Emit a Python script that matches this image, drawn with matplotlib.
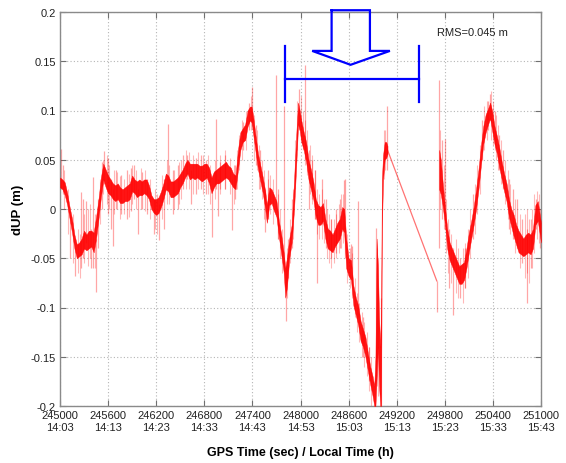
import matplotlib
matplotlib.use("Agg")
import matplotlib.pyplot as plt
import numpy as np

plt.rcParams['font.family'] = ['Liberation Sans', 'DejaVu Sans']

# ---------------- data ----------------
# segment A (before the data gap): time (s) and lower / upper edge of the dense trace (m)
t_a = [245000, 245030, 245060, 245090, 245120, 245150, 245180, 245210, 245240, 245270,
       245300, 245330, 245360, 245390, 245420, 245450, 245480, 245510, 245540, 245570,
       245600, 245630, 245660, 245690, 245720, 245750, 245780, 245810, 245840, 245870,
       245900, 245930, 245960, 245990, 246020, 246050, 246080, 246110, 246140, 246170,
       246200, 246230, 246260, 246290, 246320, 246350, 246380, 246410, 246440, 246470,
       246500, 246530, 246560, 246590, 246620, 246650, 246680, 246710, 246740, 246770,
       246800, 246830, 246860, 246890, 246920, 246950, 246980, 247010, 247040, 247070,
       247100, 247130, 247160, 247190, 247220, 247250, 247280, 247310, 247340, 247370,
       247390, 247410, 247440, 247470, 247500, 247530, 247560, 247580, 247610, 247640,
       247670, 247700, 247730, 247760, 247790, 247810, 247830, 247860, 247890, 247920,
       247950, 247970, 247990, 248010, 248040, 248070, 248100, 248130, 248160, 248190,
       248220, 248250, 248280, 248310, 248340, 248370, 248400, 248430, 248460, 248490,
       248520, 248545, 248570, 248600, 248630, 248660, 248690, 248720, 248750, 248780,
       248810, 248840, 248870, 248900, 248920, 248935, 248950, 248965, 248980, 248995,
       249005, 249015, 249030, 249050, 249070, 249085]
lo_a = [0.022, 0.020, 0.014, 0.004, -0.010, -0.024, -0.040, -0.050, -0.048, -0.046,
        -0.040, -0.042, -0.040, -0.038, -0.044, -0.030, -0.010, 0.012, 0.030, 0.022,
        0.016, 0.014, 0.010, 0.008, 0.010, 0.006, 0.006, 0.008, 0.008, 0.010,
        0.018, 0.016, 0.012, 0.014, 0.014, 0.016, 0.014, 0.010, 0.000, -0.004,
        -0.006, -0.004, 0.002, 0.010, 0.020, 0.018, 0.012, 0.012, 0.014, 0.016,
        0.022, 0.026, 0.032, 0.036, 0.030, 0.032, 0.030, 0.032, 0.030, 0.028,
        0.030, 0.032, 0.026, 0.016, 0.022, 0.026, 0.026, 0.028, 0.030, 0.032,
        0.030, 0.026, 0.022, 0.020, 0.040, 0.060, 0.068, 0.070, 0.084, 0.090,
        0.088, 0.076, 0.058, 0.040, 0.028, 0.016, 0.000, -0.014, 0.004, 0.006,
        -0.002, -0.008, -0.028, -0.046, -0.064, -0.090, -0.080, -0.050, -0.034, 0.000,
        0.050, 0.086, 0.080, 0.068, 0.060, 0.048, 0.030, 0.020, 0.010, -0.008,
        -0.016, -0.016, -0.012, -0.030, -0.040, -0.042, -0.044, -0.038, -0.034, -0.030,
        -0.020, -0.024, -0.060, -0.068, -0.072, -0.098, -0.108, -0.118, -0.134, -0.140,
        -0.150, -0.164, -0.178, -0.190, -0.200, -0.200, -0.170, -0.140, -0.180, -0.200,
        -0.200, -0.020, 0.030, 0.050, 0.052, 0.056]
hi_a = [0.032, 0.030, 0.027, 0.016, 0.002, -0.010, -0.026, -0.036, -0.034, -0.030,
        -0.022, -0.026, -0.022, -0.022, -0.024, -0.008, 0.010, 0.032, 0.046, 0.040,
        0.034, 0.030, 0.026, 0.024, 0.026, 0.022, 0.020, 0.022, 0.024, 0.026,
        0.034, 0.030, 0.028, 0.030, 0.028, 0.030, 0.030, 0.024, 0.014, 0.010,
        0.010, 0.012, 0.018, 0.026, 0.036, 0.034, 0.028, 0.028, 0.030, 0.032,
        0.036, 0.040, 0.046, 0.050, 0.046, 0.046, 0.046, 0.046, 0.044, 0.044,
        0.046, 0.046, 0.042, 0.032, 0.038, 0.040, 0.042, 0.044, 0.046, 0.048,
        0.044, 0.042, 0.036, 0.034, 0.060, 0.078, 0.082, 0.086, 0.100, 0.104,
        0.104, 0.094, 0.074, 0.056, 0.044, 0.032, 0.018, 0.004, 0.022, 0.020,
        0.014, 0.008, -0.012, -0.026, -0.044, -0.060, -0.050, -0.030, -0.016, 0.030,
        0.080, 0.108, 0.100, 0.090, 0.078, 0.068, 0.050, 0.040, 0.028, 0.010,
        0.004, 0.002, 0.006, -0.010, -0.020, -0.022, -0.026, -0.020, -0.014, -0.010,
        0.002, 0.000, -0.030, -0.050, -0.052, -0.078, -0.090, -0.098, -0.114, -0.122,
        -0.130, -0.146, -0.160, -0.170, -0.180, -0.150, -0.030, -0.060, -0.110, -0.140,
        -0.100, 0.030, 0.055, 0.068, 0.068, 0.064]

# segment B (after the data gap)
t_b = [249730, 249750, 249770, 249800, 249830, 249860, 249890, 249920, 249950, 249980,
       250010, 250040, 250070, 250100, 250130, 250160, 250190, 250220, 250250, 250280,
       250310, 250340, 250365, 250390, 250420, 250450, 250480, 250510, 250540, 250570,
       250600, 250630, 250660, 250690, 250720, 250750, 250780, 250810, 250840, 250870,
       250900, 250930, 250960, 250985, 251000]
lo_b = [0.020, 0.015, 0.005, -0.014, -0.040, -0.052, -0.058, -0.064, -0.070, -0.076,
        -0.076, -0.072, -0.060, -0.044, -0.030, -0.016, 0.000, 0.020, 0.044, 0.066,
        0.078, 0.086, 0.092, 0.080, 0.066, 0.056, 0.042, 0.030, 0.018, 0.008,
        -0.008, -0.018, -0.028, -0.036, -0.044, -0.046, -0.048, -0.046, -0.044, -0.046,
        -0.040, -0.016, -0.012, -0.026, -0.034]
hi_b = [0.060, 0.050, 0.030, 0.004, -0.020, -0.034, -0.040, -0.046, -0.052, -0.058,
        -0.056, -0.054, -0.040, -0.024, -0.012, 0.002, 0.020, 0.040, 0.064, 0.084,
        0.096, 0.102, 0.108, 0.100, 0.084, 0.074, 0.062, 0.048, 0.036, 0.026,
        0.010, 0.000, -0.006, -0.016, -0.022, -0.026, -0.030, -0.026, -0.024, -0.026,
        -0.020, 0.004, 0.008, -0.006, -0.014]

# straight line drawn across the data gap
gap_t = [249085, 249700]
gap_v = [0.060, -0.073]

# isolated spikes (time, lowest, highest)
spk_t = [245015, 245040, 245130, 245190, 245265, 245285, 245320, 245390, 245410, 245448,
         245470, 245520, 245555, 245600, 245640, 245660, 245700, 245760, 245830, 245880,
         245920, 245975, 246020, 246080, 246170, 246230, 246300, 246345, 246405, 246470,
         246540, 246590, 246640, 246700, 246760, 246815, 246900, 246945, 246975, 247000,
         247060, 247140, 247180, 247280, 247360, 247400, 247440, 247500, 247560, 247600,
         247690, 247720, 247797, 247814, 247850, 247900, 247980, 248054, 248100, 248140,
         248180, 248200, 248270, 248320, 248380, 248440, 248490, 248540, 248560, 248630,
         248640, 248720, 248780, 248850, 248940, 249000, 249076, 249700, 249722, 249760,
         249800, 249850, 249905, 249990, 250050, 250150, 250270, 250340, 250363, 250420,
         250470, 250520, 250600, 250650, 250700, 250760, 250830, 250880, 250940, 250990]
spk_lo = [0.020, 0.015, -0.050, -0.068, -0.060, -0.050, -0.035, -0.060, -0.060, -0.084,
          -0.040, 0.000, 0.025, -0.005, -0.020, -0.038, 0.000, -0.005, -0.010, -0.002,
          0.010, -0.025, 0.000, -0.005, -0.025, -0.031, -0.020, 0.020, -0.005, 0.000,
          0.020, 0.030, 0.005, 0.015, 0.020, 0.015, -0.028, 0.020, -0.007, 0.020,
          0.020, -0.021, 0.010, 0.060, 0.080, 0.085, 0.045, 0.020, -0.023, -0.010,
          0.000, -0.030, -0.060, -0.114, -0.070, -0.040, 0.080, 0.050, 0.000, 0.010,
          -0.010, -0.075, -0.015, -0.040, -0.050, -0.045, -0.040, -0.020, -0.050, -0.060,
          -0.070, -0.110, -0.150, -0.175, -0.170, -0.200, 0.040, -0.105, -0.040, -0.010,
          -0.020, -0.080, -0.108, -0.090, -0.080, -0.030, 0.050, 0.080, 0.090, 0.060,
          0.040, 0.020, -0.020, -0.030, -0.040, -0.055, -0.095, -0.060, -0.020, -0.040]
spk_hi = [0.061, 0.045, -0.005, -0.040, 0.017, 0.010, 0.008, -0.020, 0.032, -0.030,
          0.010, 0.048, 0.059, 0.052, 0.030, 0.020, 0.040, 0.035, 0.040, 0.042,
          0.045, 0.020, 0.038, 0.030, 0.010, 0.005, 0.030, 0.086, 0.040, 0.045,
          0.055, 0.055, 0.040, 0.052, 0.055, 0.050, 0.020, 0.091, 0.030, 0.048,
          0.055, 0.030, 0.045, 0.088, 0.108, 0.124, 0.085, 0.060, 0.020, 0.040,
          0.136, 0.020, 0.105, -0.060, -0.030, 0.010, 0.122, 0.146, 0.060, 0.050,
          0.040, -0.005, 0.030, 0.010, -0.010, 0.000, 0.010, 0.029, 0.030, -0.036,
          -0.038, 0.008, -0.110, -0.140, -0.019, -0.090, 0.105, -0.073, 0.131, 0.070,
          0.071, -0.020, -0.040, -0.050, -0.040, 0.015, 0.090, 0.110, 0.117, 0.100,
          0.075, 0.060, 0.030, 0.020, 0.010, -0.010, -0.020, -0.010, 0.010, 0.000]

# light noise fringe around the dense trace (time, lowest, highest)
frg_t = [245045, 245105, 245165, 245225, 245245, 245305, 245345, 245375, 245435, 245495,
         245535, 245585, 245615, 245675, 245715, 245745, 245795, 245855, 245895, 245945,
         246005, 246065, 246125, 246185, 246215, 246275, 246335, 246365, 246425, 246485,
         246515, 246575, 246605, 246665, 246725, 246785, 246845, 246875, 246935, 246995,
         247055, 247115, 247175, 247205, 247235, 247265, 247325, 247385, 247425, 247455,
         247485, 247515, 247545, 247595, 247625, 247655, 247715, 247745, 247775, 247835,
         247875, 247905, 247935, 247960, 248000, 248025, 248055, 248085, 248115, 248145,
         248175, 248205, 248235, 248265, 248295, 248325, 248355, 248385, 248415, 248445,
         248475, 248505, 248530, 248585, 248615, 248645, 248675, 248705, 248735, 248765,
         248795, 248825, 248855, 248885, 248958, 248972, 249040, 249060, 249740, 249785,
         249815, 249845, 249875, 249935, 249965, 250025, 250055, 250085, 250115, 250175,
         250205, 250235, 250295, 250325, 250380, 250405, 250435, 250465, 250495, 250555,
         250585, 250615, 250675, 250735, 250795, 250825, 250855, 250885, 250915, 250945,
         250975]
frg_lo = [0.000, -0.025, -0.055, -0.065, -0.070, -0.055, -0.058, -0.050, -0.060, -0.015,
          0.015, 0.005, 0.000, -0.005, 0.000, -0.010, -0.005, -0.008, 0.005, 0.000,
          0.000, -0.002, -0.010, -0.020, -0.025, -0.010, 0.005, 0.005, 0.000, 0.005,
          0.010, 0.020, 0.020, 0.015, 0.020, 0.015, 0.015, 0.005, 0.010, 0.015,
          0.020, 0.015, 0.005, 0.020, 0.040, 0.050, 0.060, 0.080, 0.050, 0.040,
          0.020, 0.010, -0.010, -0.010, -0.005, -0.015, -0.030, -0.050, -0.065, -0.090,
          -0.055, -0.030, 0.020, 0.060, 0.070, 0.060, 0.045, 0.035, 0.015, 0.005,
          -0.010, -0.025, -0.030, -0.030, -0.035, -0.050, -0.055, -0.060, -0.055, -0.050,
          -0.045, -0.040, -0.035, -0.075, -0.080, -0.090, -0.110, -0.125, -0.135, -0.150,
          -0.160, -0.170, -0.185, -0.200, -0.180, -0.190, 0.030, 0.040, 0.000, -0.020,
          -0.045, -0.065, -0.075, -0.085, -0.090, -0.095, -0.080, -0.070, -0.050, -0.025,
          -0.005, 0.015, 0.060, 0.070, 0.070, 0.065, 0.050, 0.040, 0.025, 0.005,
          -0.010, -0.025, -0.045, -0.060, -0.070, -0.065, -0.075, -0.060, -0.045, -0.030,
          -0.035]
frg_hi = [0.040, 0.020, -0.005, -0.020, -0.025, -0.005, 0.000, 0.005, -0.005, 0.030,
          0.050, 0.055, 0.045, 0.040, 0.038, 0.033, 0.030, 0.036, 0.045, 0.040,
          0.042, 0.040, 0.030, 0.020, 0.015, 0.035, 0.050, 0.045, 0.040, 0.048,
          0.050, 0.060, 0.058, 0.055, 0.058, 0.055, 0.055, 0.045, 0.050, 0.055,
          0.060, 0.052, 0.045, 0.060, 0.075, 0.090, 0.100, 0.115, 0.095, 0.080,
          0.065, 0.050, 0.040, 0.030, 0.035, 0.030, 0.015, 0.000, -0.020, -0.040,
          -0.010, 0.020, 0.070, 0.110, 0.115, 0.100, 0.090, 0.080, 0.065, 0.055,
          0.040, 0.020, 0.015, 0.020, 0.010, 0.000, -0.005, -0.010, -0.010, -0.005,
          0.005, 0.015, 0.015, -0.025, -0.040, -0.045, -0.070, -0.085, -0.095, -0.105,
          -0.115, -0.125, -0.140, -0.150, -0.040, -0.050, 0.080, 0.080, 0.080, 0.045,
          0.010, -0.010, -0.025, -0.030, -0.040, -0.040, -0.035, -0.020, 0.000, 0.025,
          0.045, 0.065, 0.105, 0.110, 0.120, 0.110, 0.095, 0.085, 0.070, 0.050,
          0.040, 0.025, 0.010, -0.005, -0.005, 0.000, -0.010, 0.000, 0.015, 0.018,
          0.015]

# axis ticks
x_ticks = [245000, 245600, 246200, 246800, 247400, 248000, 248600, 249200, 249800, 250400, 251000]
x_tick_labels = ['245000\n14:03', '245600\n14:13', '246200\n14:23', '246800\n14:33',
                 '247400\n14:43', '248000\n14:53', '248600\n15:03', '249200\n15:13',
                 '249800\n15:23', '250400\n15:33', '251000\n15:43']
y_ticks = [-0.2, -0.15, -0.1, -0.05, 0, 0.05, 0.1, 0.15, 0.2]
y_tick_labels = ['-0.2', '-0.15', '-0.1', '-0.05', '0', '0.05', '0.1', '0.15', '0.2']

rms_text = 'RMS=0.045 m'

# annotation geometry (bracket and hollow arrow), in data coordinates
bracket_t = [247806, 249477]
bracket_lo, bracket_hi, bracket_bar = 0.109, 0.165, 0.132
arrow_t = [248388, 248866, 248866, 249115, 248625, 248146, 248388, 248388]
arrow_v = [0.2018, 0.2018, 0.1605, 0.1605, 0.1464, 0.1605, 0.1605, 0.2018]

# ---------------- figure ----------------
fig = plt.figure(figsize=(5.66, 4.64), dpi=100)
ax = fig.add_axes([60/566, 57/464, 481/566, 394/464])

red = '#ff0000'
ax.vlines(frg_t, frg_lo, frg_hi, colors=red, alpha=0.28, lw=0.8, zorder=2)
ax.vlines(spk_t, spk_lo, spk_hi, colors=red, alpha=0.35, lw=0.9, zorder=2)
ax.fill_between(t_a, lo_a, hi_a, facecolor=red, edgecolor=red, lw=0.3, alpha=0.92, zorder=3)
ax.fill_between(t_b, lo_b, hi_b, facecolor=red, edgecolor=red, lw=0.3, alpha=0.92, zorder=3)
ax.plot(gap_t, gap_v, color=red, alpha=0.55, lw=0.9, zorder=3)

ax.set_xlim(245000, 251000)
ax.set_ylim(-0.2, 0.2)
ax.set_xticks(x_ticks)
ax.set_xticklabels(x_tick_labels, fontsize=8, color='#222222', linespacing=1.25)
ax.set_yticks(y_ticks)
ax.set_yticklabels(y_tick_labels, fontsize=8, color='#222222')
ax.tick_params(direction='in', top=True, right=True, length=4, width=0.8,
               color='#707070', pad=3)
ax.grid(True, ls=(0, (1, 2)), color='#b5b5b5', lw=0.8)
for s in ax.spines.values():
    s.set_color('#8a8a8a')
    s.set_linewidth(1.0)

# annotations
blue = '#0000ff'
for bt in bracket_t:
    ax.plot([bt, bt], [bracket_lo, bracket_hi], color=blue, lw=1.6, zorder=5)
ax.plot(bracket_t, [bracket_bar, bracket_bar], color=blue, lw=1.6, zorder=5)
ax.plot(arrow_t, arrow_v, color=blue, lw=1.6, clip_on=False, zorder=5,
        solid_joinstyle='miter')

ax.text(249700, 0.1795, rms_text, fontsize=8, color='#222222', ha='left', va='center')

fig.text(0.531, 0.0235, 'GPS Time (sec) / Local Time (h)', fontsize=9, fontweight='bold',
         ha='center', va='center')
fig.text(0.032, 0.548, 'dUP (m)', fontsize=9.5, fontweight='bold', rotation=90,
         ha='center', va='center')

fig.savefig('out.png', dpi=100)
